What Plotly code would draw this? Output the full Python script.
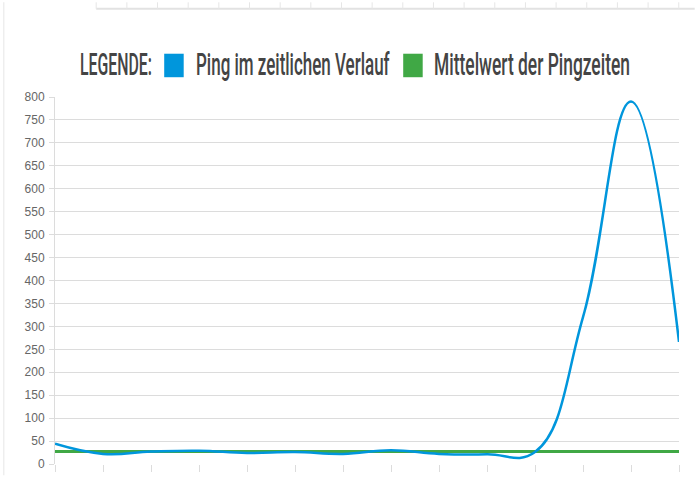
import plotly.graph_objects as go

# ---- data ----
zeitpunkte = list(range(1, 15))
ping_ms = [44, 22, 27, 29, 24, 26, 22, 30, 22, 21, 26, 320, 790, 266]
mittelwert_ms = [27] * 14
y_ticks = list(range(0, 801, 50))

legend_title = "LEGENDE:"
name_ping = "Ping im zeitlichen Verlauf"
name_mittel = "Mittelwert der Pingzeiten"

BLUE = "#0096dc"
GREEN = "#40a845"
GRID = "#dcdcdc"
TXT = "#444444"

W, H = 695, 483
L, R = 55.3, 679.3
T, B = 96.7, 471.5


def px(x):
    return (x - L) / (R - L)


def py(y):
    return (B - y) / (B - T)


fig = go.Figure()
fig.add_trace(go.Scatter(x=zeitpunkte, y=mittelwert_ms, mode="lines", name=name_mittel,
                         line=dict(color=GREEN, width=3), hoverinfo="skip"))
fig.add_trace(go.Scatter(x=zeitpunkte, y=ping_ms, mode="lines", name=name_ping,
                         line=dict(color=BLUE, width=2.5, shape="spline", smoothing=1.2)))

shapes = []
shapes.append(dict(type="line", xref="paper", yref="paper", x0=px(4), x1=px(4), y0=py(0), y1=py(H),
                   line=dict(color="#eeeeee", width=1.5)))
shapes.append(dict(type="line", xref="paper", yref="paper", x0=px(96.5), x1=px(W), y0=py(6.6), y1=py(6.6),
                   line=dict(color="#e2e2e2", width=2)))
k = 0
while 96.5 + 30.66 * k <= 681:
    xx = 96.5 + 30.66 * k
    shapes.append(dict(type="line", xref="paper", yref="paper", x0=px(xx), x1=px(xx), y0=py(0), y1=py(6.6),
                       line=dict(color="#e6e6e6", width=1)))
    k += 1
shapes.append(dict(type="rect", xref="paper", yref="paper", x0=px(164.5), x1=px(184), y0=py(52.5), y1=py(76.5),
                   fillcolor=BLUE, line=dict(width=0)))
shapes.append(dict(type="rect", xref="paper", yref="paper", x0=px(403.5), x1=px(423), y0=py(52.5), y1=py(76.5),
                   fillcolor=GREEN, line=dict(width=0)))

FONT = "Roboto, Liberation Sans, sans-serif"
# (text, left px, target width px)
legend_items = [(legend_title, 78, 72), (name_ping, 194, 194), (name_mittel, 432, 196)]
annotations = []
for txt, left, _w in legend_items:
    annotations.append(dict(text=txt, x=px(left), y=py(63), xref="paper", yref="paper",
                            xanchor="left", yanchor="middle", showarrow=False,
                            font=dict(family=FONT, size=32, color=TXT, weight=500)))

fig.update_layout(
    width=W, height=H,
    margin=dict(l=L, r=W - R, t=T, b=H - B, pad=0),
    paper_bgcolor="white", plot_bgcolor="white",
    showlegend=False,
    shapes=shapes, annotations=annotations,
    xaxis=dict(range=[1, 14], showgrid=False, zeroline=False, showticklabels=False,
               ticks="outside", ticklen=7, tickcolor=GRID, tickwidth=1, tickvals=zeitpunkte,
               showline=False),
    yaxis=dict(range=[0, 800], tickvals=y_ticks, showgrid=True, gridcolor=GRID, gridwidth=1,
               zeroline=False, showline=True, linecolor=GRID, linewidth=1,
               ticks="outside", ticklen=5, tickcolor=GRID, ticklabelstandoff=2,
               tickfont=dict(family="Liberation Sans, Arial, sans-serif", size=12, color="#666666")),
)

widths = ",".join(str(w) for _, _, w in legend_items)
lefts = ",".join(str(l) for _, l, _ in legend_items)
post = """
var gd = document.getElementById('{plot_id}');
var W = [%s], X = [%s];
var texts = gd.querySelectorAll('.annotation-text');
texts.forEach(function(t, i) {
  if (i >= W.length) return;
  var bb = t.getBBox();
  var s = W[i] / bb.width;
  t.setAttribute('transform', 'translate(' + bb.x + ',0) scale(' + s + ',1) translate(' + (-bb.x) + ',0)');
});
""" % (widths, lefts)

fig.write_html("out.html", post_script=post)
